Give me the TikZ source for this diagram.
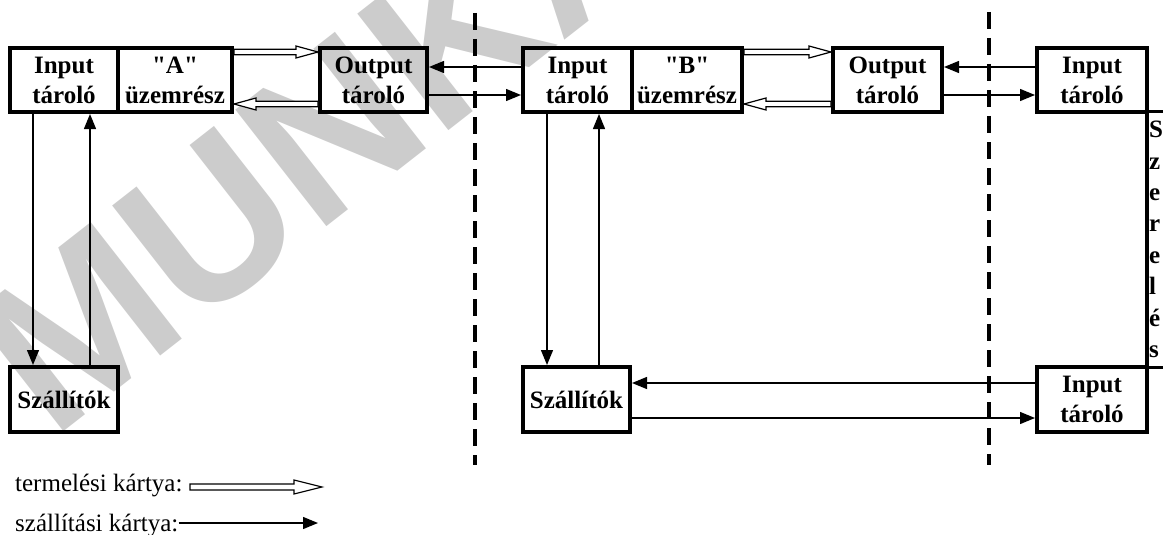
\documentclass[tikz,border=0pt]{standalone}
\usepackage{fontspec}
\setmainfont{Liberation Serif}[Ligatures=TeXOff]
\newfontfamily\wmfont{Liberation Sans}
\usetikzlibrary{arrows.meta,calc}
\begin{document}
\begin{tikzpicture}[x=1pt,y=-1pt,
  box/.style={draw, line width=4pt, minimum height=64pt, inner sep=0pt, align=center,
    font=\bfseries\fontsize{25}{30}\selectfont},
  conn/.style={line width=1.3pt, -{Triangle[length=15pt,width=12pt]}},
  hollow/.style n args={3}{draw, line width=1.2pt, fill=white, to path={
     let \p1=(\tikztostart), \p2=(\tikztotarget), \n1={ifthenelse(\x2>\x1,1,-1)} in
     (\x1,\y1-#1) -- (\x2-\n1*#3,\y1-#1) -- (\x2-\n1*#3,\y1-#2) -- (\x2,\y1)
     -- (\x2-\n1*#3,\y1+#2) -- (\x2-\n1*#3,\y1+#1) -- (\x1,\y1+#1) -- cycle}},
  divider/.style={line width=4pt, dash pattern=on 17pt off 9pt},
  legend/.style={anchor=base west, inner sep=0pt, font=\fontsize{25}{30}\selectfont},
]
\useasboundingbox (0,0) rectangle (1163,535);
\begin{scope}
\clip (0,0) rectangle (1163,535);
\node[rotate=38, anchor=base west, text=black!20, inner sep=0pt,
  font=\wmfont\bfseries\fontsize{215}{215}\selectfont] (wm) at (52,441) {MUNKAANYAG};
\end{scope}

% top row
\node[box, minimum width=108pt] (IA) at (64,80) {Input\\tároló};
\node[box, minimum width=114pt] (UA) at (175,80) {"A"\\üzemrész};
\node[box, minimum width=107pt] (O1) at (373.5,80) {Output\\tároló};
\node[box, minimum width=109pt] (IB) at (577.5,80) {Input\\tároló};
\node[box, minimum width=110pt] (UB) at (687,80) {"B"\\üzemrész};
\node[box, minimum width=109pt] (O2) at (887.5,80) {Output\\tároló};
\node[box, minimum width=110pt] (IR) at (1092,80) {Input\\tároló};
% bottom row
\node[box, minimum width=108pt, minimum height=65pt] (S1) at (64,399.5) {Szállítók};
\node[box, minimum width=107pt, minimum height=65pt] (S2) at (576.5,399.5) {Szállítók};
\node[box, minimum width=110pt, minimum height=65pt] (IL) at (1092,399.5) {Input\\tároló};

% dashed dividers
\coordinate (d1t) at (475,13); \coordinate (d1b) at (475,465);
\coordinate (d2t) at (989,12); \coordinate (d2b) at (989,465);
\draw[divider] (d1t) -- (d1b);
\draw[divider] (d2t) -- (d2b);

% production kanbans (hollow)
\draw[hollow={2.7pt}{6pt}{22pt}] ([yshift=28pt]UA.east) to ([yshift=28pt]O1.west);
\draw[hollow={2.7pt}{6pt}{22pt}] ([yshift=-24pt]O1.west) to ([yshift=-24pt]UA.east);
\draw[hollow={2.7pt}{6pt}{22pt}] ([yshift=28pt]UB.east) to ([yshift=28pt]O2.west);
\draw[hollow={2.7pt}{6pt}{22pt}] ([yshift=-24pt]O2.west) to ([yshift=-24pt]UB.east);

% transport kanbans
\draw[conn] ([yshift=13pt]IB.west) -- ([yshift=13pt]O1.east);
\draw[conn] ([yshift=-15pt]O1.east) -- ([yshift=-15pt]IB.west);
\draw[conn] ([yshift=13pt]IR.west) -- ([yshift=13pt]O2.east);
\draw[conn] ([yshift=-15pt]O2.east) -- ([yshift=-15pt]IR.west);

\draw[conn] ([xshift=-31pt]IA.south) -- ([xshift=-31pt]IA.south |- S1.north);
\draw[conn] ([xshift=26pt]S1.north) -- ([xshift=26pt]S1.north |- IA.south);
\draw[conn] ([xshift=-30.5pt]IB.south) -- ([xshift=-30.5pt]IB.south |- S2.north);
\draw[conn] ([xshift=22.5pt]S2.north) -- ([xshift=22.5pt]S2.north |- IB.south);

\draw[conn] ([yshift=16.5pt]IL.west) -- ([yshift=16.5pt]IL.west -| S2.east);
\draw[conn] ([yshift=-18.5pt]S2.east) -- ([yshift=-18.5pt]S2.east -| IL.west);

% assembly
\coordinate (rb1) at (1163,112); \coordinate (rb2) at (1163,367);
\draw[line width=3.5pt] ([xshift=-2pt]IR.south east) -- ([xshift=-2pt]IL.north east);
\draw[line width=3pt] ([xshift=-2pt,yshift=2pt]IR.south east) -- (rb1);
\draw[line width=3pt] ([xshift=-2pt,yshift=-2pt]IL.north east) -- (rb2);
\node[anchor=north west, align=left, inner sep=0pt,
  font=\bfseries\fontsize{25}{31.4}\selectfont] (SZ) at (1149,121) {S\\z\\e\\r\\e\\l\\é\\s};

% legend
\node[legend] (L1) at (15,491) {termelési kártya:};
\coordinate (L1a) at (190,487); \coordinate (L1b) at (322,487);
\draw[hollow={3pt}{7pt}{28pt}] (L1a) to (L1b);
\node[legend] (L2) at (15,531) {szállítási kártya:};
\coordinate (L2b) at (318,523);
\draw[conn] (L2.east |- L2b) -- (L2b);
\end{tikzpicture}
\end{document}
